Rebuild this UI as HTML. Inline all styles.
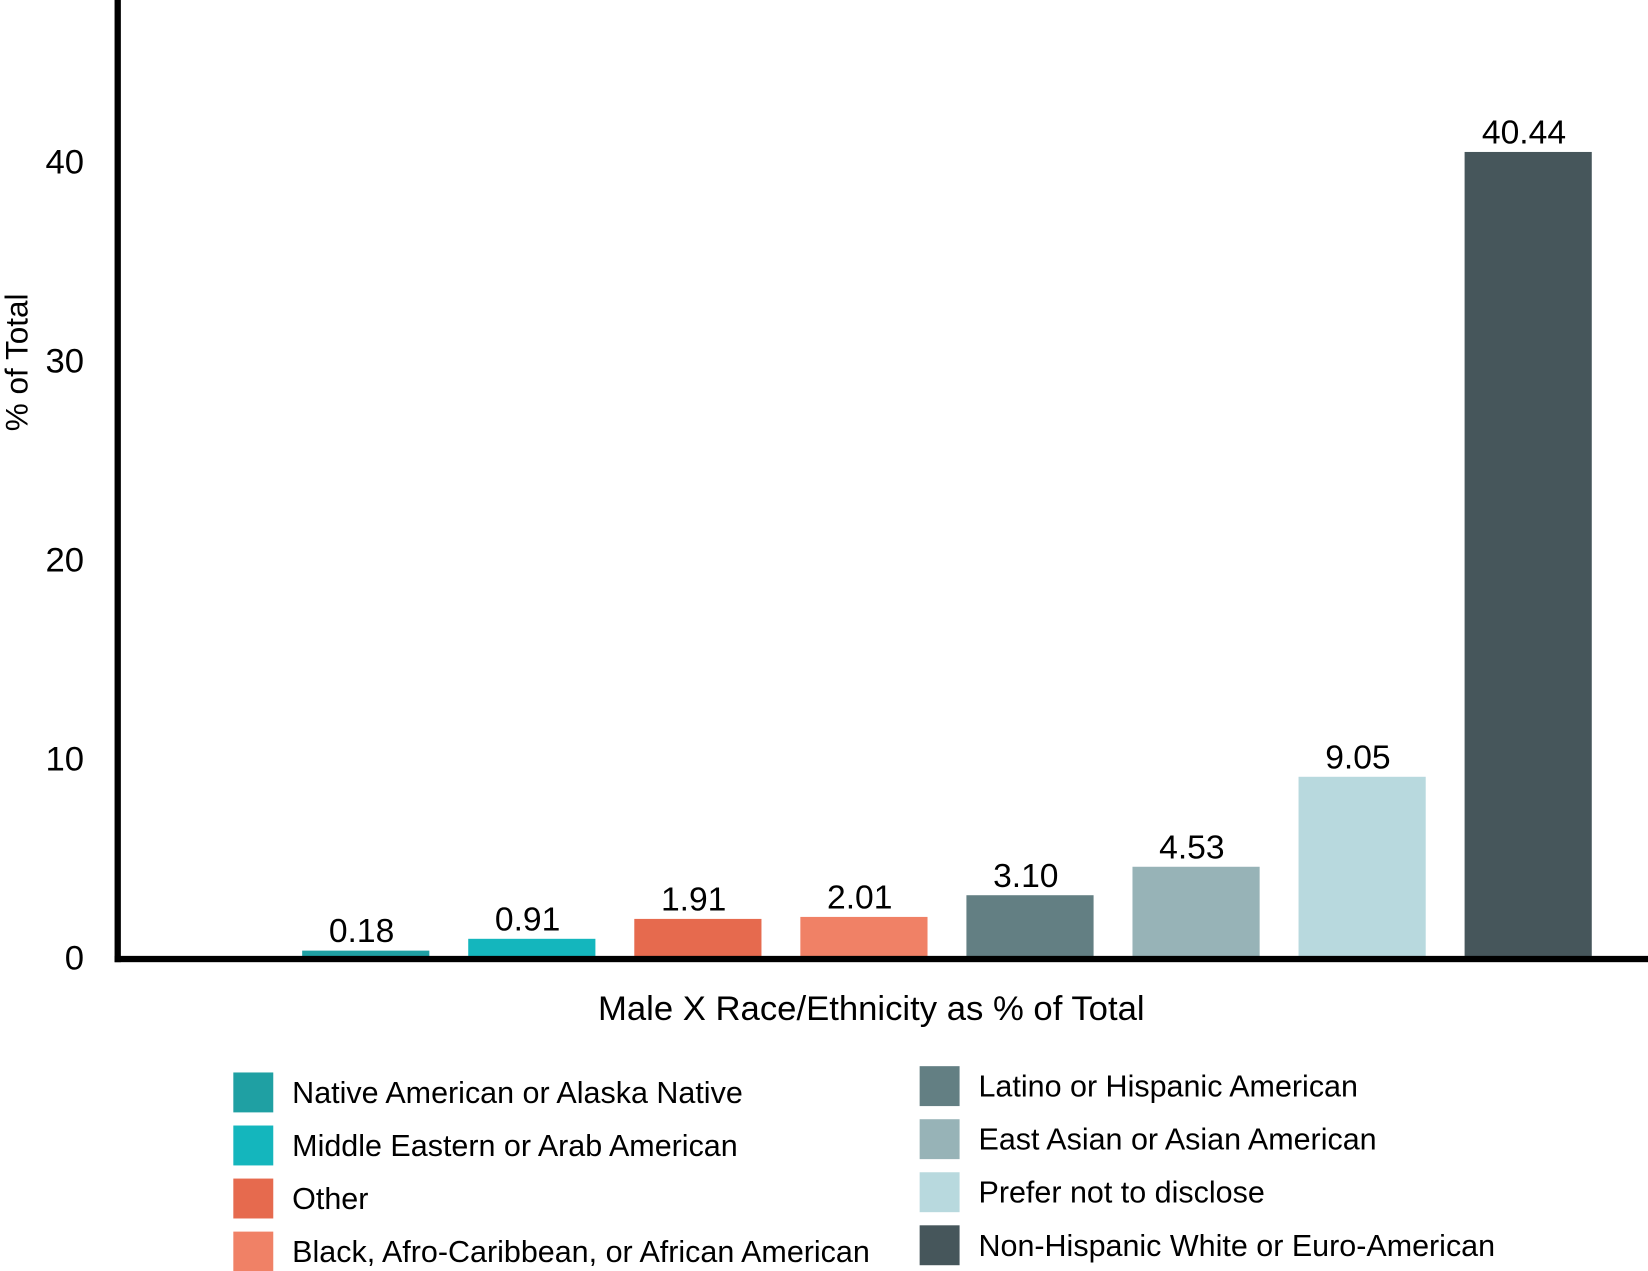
<!DOCTYPE html>
<html><head><meta charset="utf-8"><style>
html,body{margin:0;padding:0;background:#fff;}
svg{display:block;font-family:"Liberation Sans",sans-serif;}
</style></head><body>
<svg id="chart" width="1648" height="1271" viewBox="0 0 1568 1210" preserveAspectRatio="none" xmlns="http://www.w3.org/2000/svg">
<g id="ticks"></g>
<g id="bars"></g>
<rect x="109" y="0" width="6" height="916" fill="#000"/>
<rect x="109" y="910" width="1459" height="6" fill="#000"/>
<text transform="translate(26,345) rotate(-90)" text-anchor="middle" font-size="30" fill="#000">% of Total</text>
<text x="829" y="971" text-anchor="middle" font-size="33" fill="#000">Male X Race/Ethnicity as % of Total</text>
<g id="legend"></g>
</svg>
<script>
const categories=["Native American or Alaska Native","Middle Eastern or Arab American","Other","Black, Afro-Caribbean, or African American","Latino or Hispanic American","East Asian or Asian American","Prefer not to disclose","Non-Hispanic White or Euro-American"];
const values=[0.18,0.91,1.91,2.01,3.10,4.53,9.05,40.44];
const labels=["0.18","0.91","1.91","2.01","3.10","4.53","9.05","40.44"];
const colors=["#1fa0a3","#14b6bd","#e66a4e","#f08166","#637f83","#97b3b7","#b8d9de","#46565b"];
const yTicks=[0,10,20,30,40];
const NS="http://www.w3.org/2000/svg";
const y0=911, pxPerUnit=18.95;
function y(v){return y0-v*pxPerUnit;}
function xc(i){return 348+i*158;}
const bw=121;
function mk(tag,attrs,parent,txt){const e=document.createElementNS(NS,tag);for(const k in attrs)e.setAttribute(k,attrs[k]);if(txt!==undefined)e.textContent=txt;parent.appendChild(e);return e;}
const tg=document.getElementById('ticks');
yTicks.forEach(t=>{
  const e=mk('text',{x:80,y:y(t)+12,'text-anchor':'end','font-size':33,fill:'#000'},tg,String(t));
  
  
});
const bg=document.getElementById('bars');
values.forEach((v,i)=>{
  const top=Math.min(y(v),y0-6);
  const r=mk('rect',{x:xc(i)-bw/2,y:top,width:bw,height:y0-top,fill:colors[i]},bg);
  
  
  const t=mk('text',{x:xc(i)-4,y:top-8,'text-anchor':'middle','font-size':32,fill:'#000'},bg,labels[i]);
  
  
});
const lg=document.getElementById('legend');
categories.forEach((c,i)=>{
  const col=i<4?0:1, row=i%4;
  const x=col?875:222, yy=(col?1015:1021)+row*50.5;
  const r=mk('rect',{x:x,y:yy,width:38,height:38,fill:colors[i]},lg);
  
  
  const t=mk('text',{x:x+56,y:yy+29,'font-size':29,fill:'#000'},lg,c);
  
  
});
</script>
</body></html>
